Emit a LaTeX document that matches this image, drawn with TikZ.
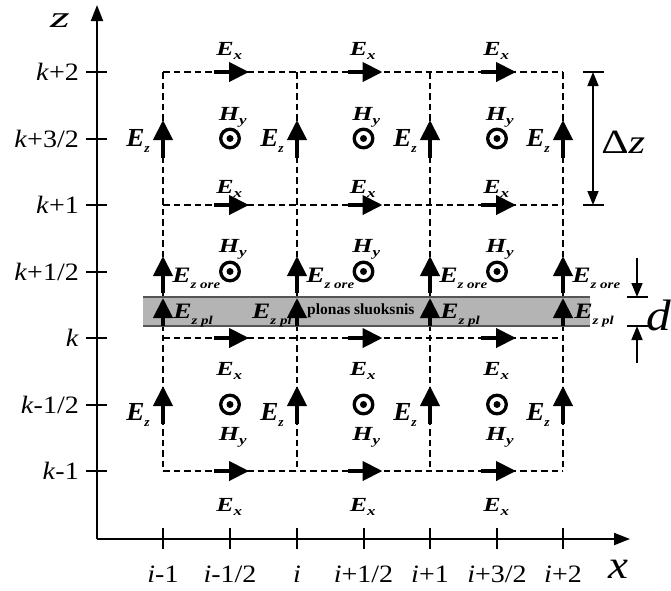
\documentclass[tikz,border=0pt]{standalone}
\usepackage{fontspec}
\setmainfont{Liberation Serif}
\newfontfamily\lblfont[FakeStretch=1.12]{Liberation Serif}
\usetikzlibrary{arrows.meta}
\newcommand\subt[1]{{\fontsize{13}{13}\selectfont #1}}
\newcommand\subs[1]{{\fontsize{12}{12}\selectfont #1}}
\newcommand\Ehang[1]{E\rlap{\raisebox{-4pt}{\subt{#1}}}}
\newcommand\Hhang[1]{H\rlap{\raisebox{-4pt}{\subt{#1}}}}
\newcommand\Efull[1]{E\raisebox{-6pt}{\subt{#1}}}
\newcommand\Eore[1]{E\raisebox{-6pt}{\subs{#1}}}
\begin{document}
\begin{tikzpicture}[x=1pt,y=-1pt,
  gridline/.style={dash pattern=on 6.5pt off 4pt, line width=1.7pt},
  axisarrow/.style={line width=2pt, -{Triangle[length=16pt,width=12pt]}},
  tickline/.style={line width=2pt},
  fieldarrow/.style={line width=4.2pt, -{Triangle[length=20pt,width=19pt]}},
  dimarrow/.style={line width=1.6pt, -{Triangle[length=14pt,width=11pt]}},
  dimarrows/.style={line width=1.6pt, {Triangle[length=14pt,width=11pt]}-{Triangle[length=14pt,width=11pt]}},
  fldsmall/.style={font=\fontsize{20}{20}\selectfont\bfseries\itshape, inner sep=0pt, xscale=1.3},
  fldz/.style={font=\fontsize{26}{26}\selectfont\bfseries\itshape, inner sep=0pt, xscale=1.05},
  fldore/.style={font=\fontsize{22}{22}\selectfont\bfseries\itshape, inner sep=0pt, xscale=1.25},
  axlbl/.style={font=\lblfont\fontsize{25}{25}\selectfont, inner sep=0pt},
  hsym/.style={line width=3.3pt},
  bandline/.style={line width=1.6pt, draw={rgb,255:red,85;green,85;blue,85}}
]
\useasboundingbox (0,0) rectangle (671,590);
\definecolor{bandgray}{RGB}{180,180,180}

% grid
\foreach \yy in {72,205,338,471} \draw[gridline] (163,\yy) -- (563,\yy);
\foreach \xx in {163,297,430,563} \draw[gridline] (\xx,72) -- (\xx,471);

% thin layer band
\fill[bandgray] (143,297) rectangle (590,326);
\draw[bandline] (143,297) -- (590,297);
\draw[bandline] (143,326) -- (590,326);

% axes
\coordinate (O) at (97,539);
\coordinate (Ztip) at (97,5);
\coordinate (Xtip) at (630,539);
\draw[axisarrow] (O) -- (Ztip);
\draw[axisarrow] (O) -- (Xtip);
\node[axlbl, font=\lblfont\fontsize{30}{30}\selectfont\itshape, xscale=1.5, anchor=base] (zl) at (60,27) {z};
\node[axlbl, font=\lblfont\fontsize{40}{40}\selectfont\itshape, anchor=base] (xl) at (618,578) {x};

% z ticks and labels
\foreach \yy/\t [count=\n] in {72/{\textit{k}+2},138.5/{\textit{k}+3/2},205/{\textit{k}+1},271.5/{\textit{k}+1/2},338/{\textit{k}},404.5/{\textit{k}-1/2},471/{\textit{k}-1}} {
  \draw[tickline] (86,\yy) -- (107,\yy);
  \node[axlbl, anchor=base east] (zt\n) at (79,\yy+8.5) {\t};
}
% x ticks and labels
\foreach \xx/\t [count=\n] in {163/{\textit{i}-1},230/{\textit{i}-1/2},297/{\textit{i}},363.5/{\textit{i}+1/2},430/{\textit{i}+1},497/{\textit{i}+3/2},563/{\textit{i}+2}} {
  \draw[tickline] (\xx,528) -- (\xx,549);
  \node[axlbl, anchor=base] (xt\n) at (\xx,582) {\t};
}

% E_x arrows
\foreach \yy in {72,205,338,471}
  \foreach \xx in {230,363.5,497}
    \draw[fieldarrow] (\xx-16,\yy) -- (\xx+19,\yy);
% E_x labels
\foreach \xx [count=\n] in {230,363.5,497} {
  \node[fldsmall, anchor=base] (ex1\n) at (\xx-5,55) {\Ehang{x}};
  \node[fldsmall, anchor=base] (ex2\n) at (\xx-5,193) {\Ehang{x}};
  \node[fldsmall, anchor=base] (ex3\n) at (\xx-5,375) {\Ehang{x}};
  \node[fldsmall, anchor=base] (ex4\n) at (\xx-5,511) {\Ehang{x}};
}

% E_z arrows and labels
\foreach \xx [count=\n] in {163,297,430,563} {
  \draw[fieldarrow] (\xx,158) -- (\xx,120);
  \node[fldz, anchor=base east] (ezu\n) at (\xx-13,146) {\Efull{z}};
  \draw[fieldarrow] (\xx,424) -- (\xx,386);
  \node[fldz, anchor=base east] (ezl\n) at (\xx-13,420) {\Efull{z}};
  \draw[fieldarrow] (\xx,293) -- (\xx,256);
  \node[fldore, anchor=base west] (ezo\n) at (\xx+9,282) {\Eore{z ore}};
  \draw[fieldarrow] (\xx,326) -- (\xx,298);
}
\node[fldore, anchor=base west] (ezp1) at (173,318) {\Eore{z pl}};
\node[fldore, anchor=base east] (ezp2) at (292,318) {\Eore{z pl}};
\node[fldore, anchor=base west] (ezp3) at (440,318) {\Eore{z pl}};
\node[fldore, anchor=base west] (ezp4) at (574,318) {\Eore{z pl}};
\node[font=\fontsize{15.5}{15.5}\selectfont\bfseries, inner sep=0pt, anchor=base west] (pl) at (307,314) {plonas sluoksnis};

% H_y symbols
\foreach \yy in {138.5,271.5,404.5}
  \foreach \xx in {230,363.5,497} {
    \draw[hsym] (\xx,\yy) circle[radius=9.3];
    \fill (\xx,\yy) circle[radius=3.5];
  }
\foreach \xx [count=\n] in {230,363.5,497} {
  \node[fldsmall, anchor=base] (hy1\n) at (\xx-1,120) {\Hhang{y}};
  \node[fldsmall, anchor=base] (hy2\n) at (\xx-1,252) {\Hhang{y}};
  \node[fldsmall, anchor=base] (hy3\n) at (\xx-1,440) {\Hhang{y}};
}

% Delta z dimension
\coordinate (dz1) at (593,72);
\coordinate (dz2) at (593,205);
\draw[line width=1.6pt] (583,72) -- (604,72);
\draw[line width=1.6pt] (583,205) -- (604,205);
\draw[dimarrows] (dz1) -- (dz2);
\node[font=\fontsize{34}{34}\selectfont, inner sep=0pt, anchor=base west, xscale=1.25] (dzl) at (601,153) {Δ\textit{z}};

% d dimension
\draw[line width=1.6pt] (627,297) -- (648,297);
\draw[line width=1.6pt] (627,326) -- (648,326);
\coordinate (d1s) at (637,258);
\coordinate (d1e) at (637,297);
\coordinate (d2s) at (637,363);
\coordinate (d2e) at (637,326);
\draw[dimarrow] (d1s) -- (d1e);
\draw[dimarrow] (d2s) -- (d2e);
\node[font=\lblfont\fontsize{44}{44}\selectfont\itshape, inner sep=0pt, anchor=base west] (dl) at (646,330) {d};
\end{tikzpicture}
\end{document}
